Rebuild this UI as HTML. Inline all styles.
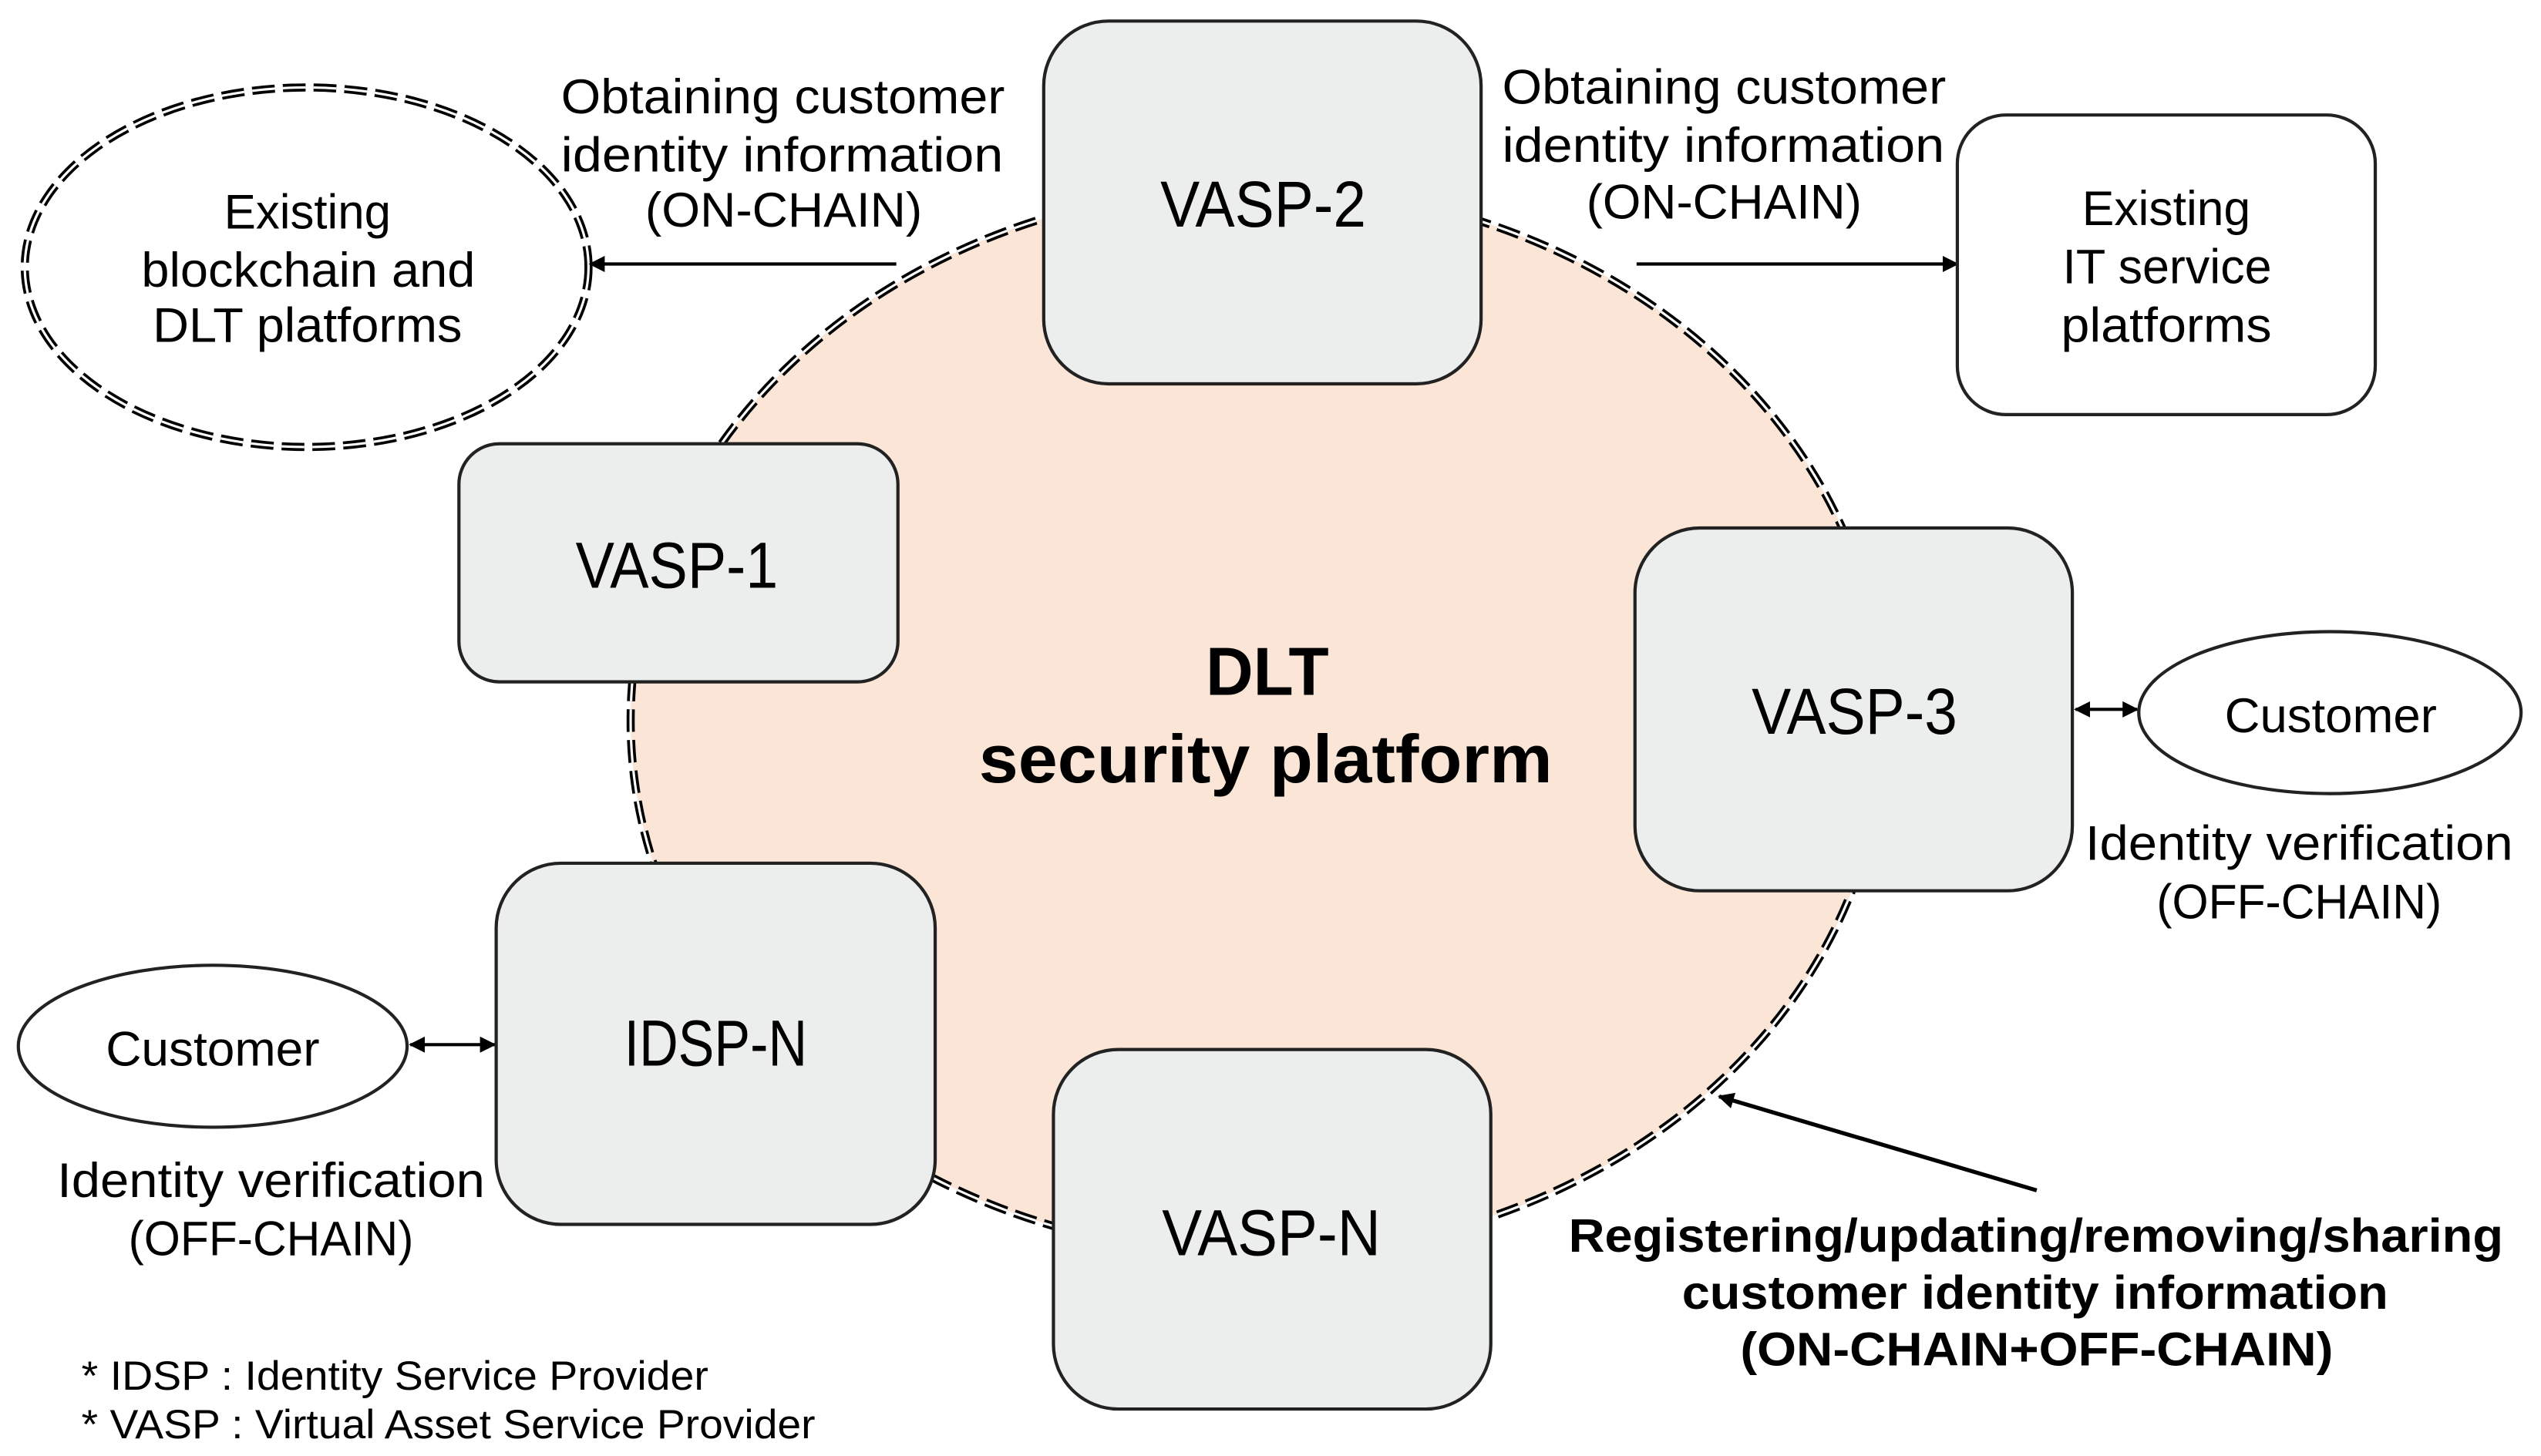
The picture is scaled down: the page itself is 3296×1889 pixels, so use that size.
<!DOCTYPE html>
<html><head><meta charset="utf-8"><style>html,body{margin:0;padding:0;background:#fff}svg{display:block}</style></head>
<body>
<svg width="3296" height="1889" viewBox="0 0 1568 899" xmlns="http://www.w3.org/2000/svg" font-family="'Liberation Sans', sans-serif">
<defs>
<marker id="ah" markerWidth="10" markerHeight="10" refX="9" refY="5" orient="auto" markerUnits="userSpaceOnUse"><path d="M0,0 L10,5 L0,10 z" fill="#000"/></marker>
<marker id="as" markerWidth="10" markerHeight="10" refX="1" refY="5" orient="auto" markerUnits="userSpaceOnUse"><path d="M10,0 L0,5 L10,10 z" fill="#000"/></marker>
</defs>
<ellipse cx="776" cy="445" rx="387" ry="330" fill="#fae5d6"/>
<ellipse cx="776" cy="445" rx="387" ry="330" fill="none" stroke="#000" stroke-width="5" stroke-dasharray="14 5"/>
<ellipse cx="776" cy="445" rx="387" ry="330" fill="none" stroke="#fff" stroke-width="1.5" stroke-dasharray="14 5"/>
<ellipse cx="189" cy="165" rx="174" ry="111" fill="#fff" stroke="#000" stroke-width="5" stroke-dasharray="14 5"/>
<ellipse cx="189" cy="165" rx="174" ry="111" fill="none" stroke="#fff" stroke-width="1.5" stroke-dasharray="14 5"/>
<line x1="553" y1="163" x2="364" y2="163" stroke="#000" stroke-width="2" marker-end="url(#ah)"/>
<line x1="1010" y1="163" x2="1208" y2="163" stroke="#000" stroke-width="2" marker-end="url(#ah)"/>
<line x1="1281" y1="438" x2="1319" y2="438" stroke="#000" stroke-width="2" marker-end="url(#ah)" marker-start="url(#as)"/>
<line x1="253" y1="645" x2="305" y2="645" stroke="#000" stroke-width="2" marker-end="url(#ah)" marker-start="url(#as)"/>
<line x1="1257" y1="735" x2="1061" y2="677" stroke="#000" stroke-width="2.5" marker-end="url(#ah)"/>
<g fill="#eceeee" stroke="#222" stroke-width="2">
<rect x="644" y="13" width="270" height="224" rx="40"/>
<rect x="283" y="274" width="271" height="147" rx="25"/>
<rect x="1009" y="326" width="270" height="224" rx="40"/>
<rect x="306" y="533" width="271" height="223" rx="40"/>
<rect x="650" y="648" width="270" height="222" rx="40"/>
</g>
<rect x="1208" y="71" width="258" height="185" rx="30" fill="#fff" stroke="#222" stroke-width="2"/>
<ellipse cx="1438" cy="440" rx="118" ry="50" fill="#fff" stroke="#222" stroke-width="2"/>
<ellipse cx="131" cy="646" rx="120" ry="50" fill="#fff" stroke="#222" stroke-width="2"/>
<g font-size="30" fill="#000">
<text x="346" y="70" textLength="274" lengthAdjust="spacingAndGlyphs">Obtaining customer</text>
<text x="346" y="106" textLength="273" lengthAdjust="spacingAndGlyphs">identity information</text>
<text x="398" y="140" textLength="171" lengthAdjust="spacingAndGlyphs">(ON-CHAIN)</text>
<text x="927" y="64" textLength="274" lengthAdjust="spacingAndGlyphs">Obtaining customer</text>
<text x="927" y="100" textLength="273" lengthAdjust="spacingAndGlyphs">identity information</text>
<text x="979" y="135" textLength="170" lengthAdjust="spacingAndGlyphs">(ON-CHAIN)</text>
<text x="138" y="141" textLength="103" lengthAdjust="spacingAndGlyphs">Existing</text>
<text x="87" y="177" textLength="206" lengthAdjust="spacingAndGlyphs">blockchain and</text>
<text x="94" y="211" textLength="191" lengthAdjust="spacingAndGlyphs">DLT platforms</text>
<text x="1285" y="139" textLength="104" lengthAdjust="spacingAndGlyphs">Existing</text>
<text x="1273" y="175" textLength="129" lengthAdjust="spacingAndGlyphs">IT service</text>
<text x="1272" y="211" textLength="130" lengthAdjust="spacingAndGlyphs">platforms</text>
<text x="1373" y="452" textLength="131" lengthAdjust="spacingAndGlyphs">Customer</text>
<text x="65" y="658" textLength="132" lengthAdjust="spacingAndGlyphs">Customer</text>
<text x="1287" y="531" textLength="264" lengthAdjust="spacingAndGlyphs">Identity verification</text>
<text x="1331" y="567" textLength="176" lengthAdjust="spacingAndGlyphs">(OFF-CHAIN)</text>
<text x="35" y="739" textLength="264" lengthAdjust="spacingAndGlyphs">Identity verification</text>
<text x="79" y="775" textLength="176" lengthAdjust="spacingAndGlyphs">(OFF-CHAIN)</text>
</g>
<g font-size="40" fill="#000">
<text x="716" y="140" textLength="127" lengthAdjust="spacingAndGlyphs">VASP-2</text>
<text x="355" y="363" textLength="125" lengthAdjust="spacingAndGlyphs">VASP-1</text>
<text x="1081" y="453" textLength="127" lengthAdjust="spacingAndGlyphs">VASP-3</text>
<text x="385" y="658" textLength="113" lengthAdjust="spacingAndGlyphs">IDSP-N</text>
<text x="717" y="775" textLength="135" lengthAdjust="spacingAndGlyphs">VASP-N</text>
</g>
<g font-size="42" font-weight="bold" fill="#000">
<text x="744" y="429" textLength="76" lengthAdjust="spacingAndGlyphs">DLT</text>
<text x="604" y="483" textLength="354" lengthAdjust="spacingAndGlyphs">security platform</text>
</g>
<g font-size="29" font-weight="bold" fill="#000">
<text x="968" y="773" textLength="577" lengthAdjust="spacingAndGlyphs">Registering/updating/removing/sharing</text>
<text x="1038" y="808" textLength="436" lengthAdjust="spacingAndGlyphs">customer identity information</text>
<text x="1074" y="843" textLength="366" lengthAdjust="spacingAndGlyphs">(ON-CHAIN+OFF-CHAIN)</text>
</g>
<g font-size="25" fill="#000">
<text x="50" y="858" textLength="387" lengthAdjust="spacingAndGlyphs">* IDSP : Identity Service Provider</text>
<text x="50" y="888" textLength="453" lengthAdjust="spacingAndGlyphs">* VASP : Virtual Asset Service Provider</text>
</g>
</svg>
</body></html>
